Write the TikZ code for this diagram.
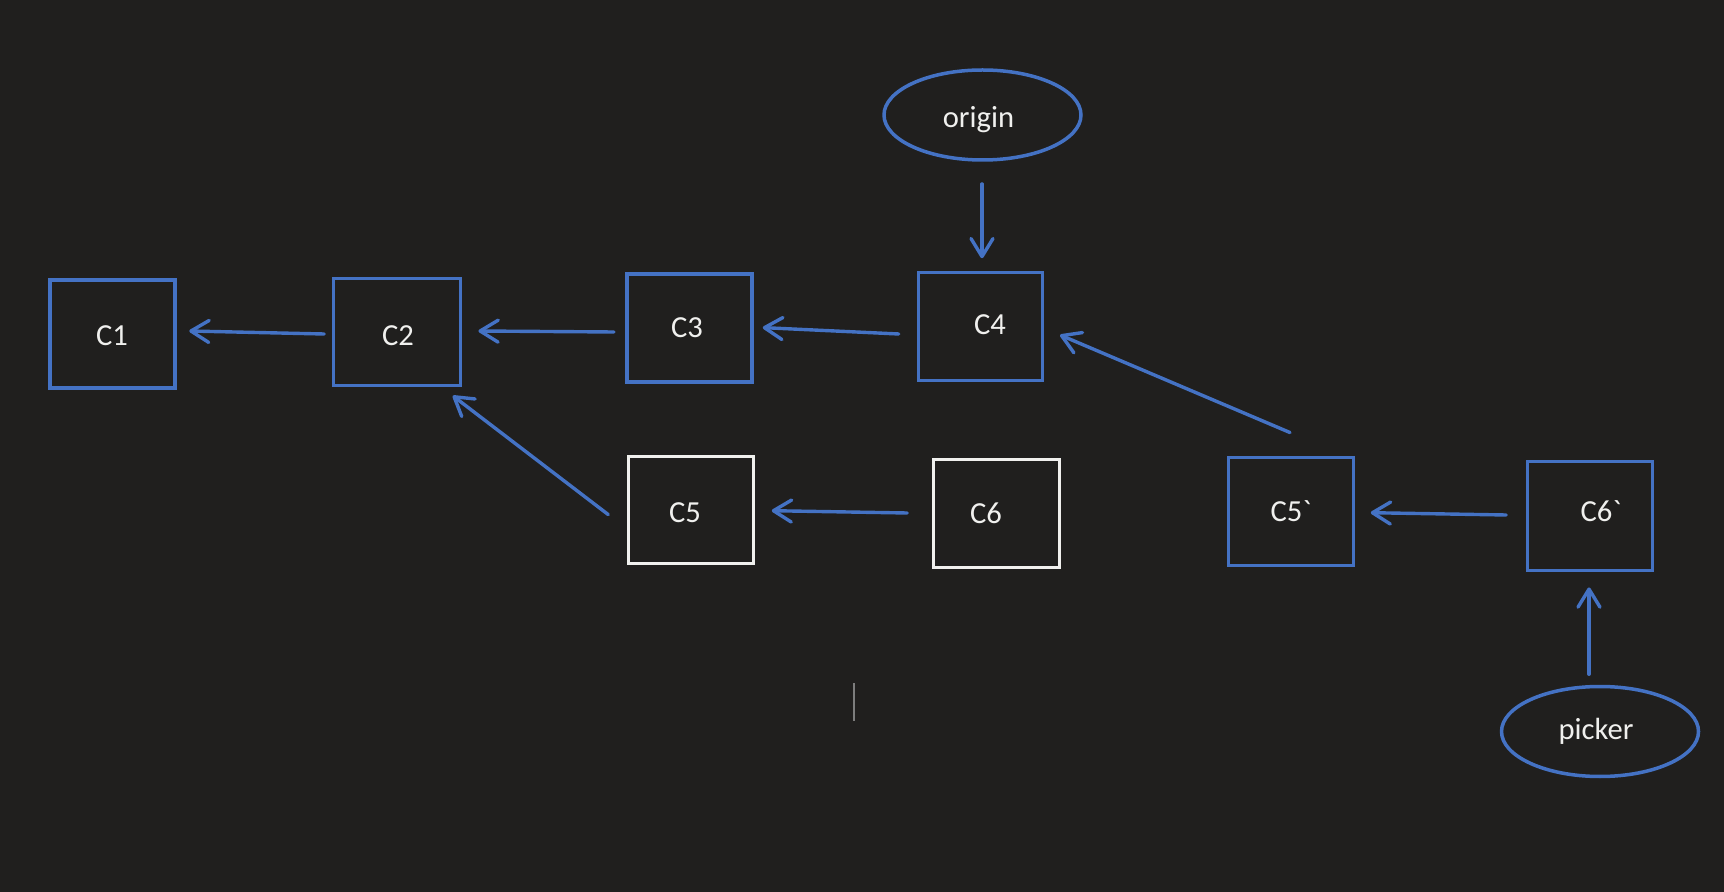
\documentclass[tikz,border=0pt]{standalone}
\usepackage{fontspec}
% plain family: no TeX ligatures, so ` stays a grave accent
\newfontfamily\labelfont{Carlito}
\usetikzlibrary{arrows.meta,shapes.geometric}
\definecolor{bg}{RGB}{32,31,30}
\definecolor{office}{RGB}{68,114,196}
\definecolor{paper}{RGB}{240,240,238}
\definecolor{caret}{RGB}{125,125,125}

\begin{document}
\begin{tikzpicture}[x=0.5pt,y=-0.5pt,
  commit/.style={draw=office,line width=1.75pt,inner sep=0pt,
    minimum width=62.5pt,minimum height=54pt},
  orphan/.style={commit,draw=paper},
  refname/.style={ellipse,draw=office,line width=1.75pt,inner sep=0pt,
    minimum width=98.5pt,minimum height=45pt},
  idtext/.style={inner sep=0pt,text=paper,font=\labelfont\fontsize{15.3}{18}\selectfont},
  parent/.style={draw=office,line width=1.7pt,line cap=round,
    -{Straight Barb[length=9pt,width=11pt,line cap=round,line join=round]}}]

\fill[bg] (0,0) rectangle (1724,892);
\useasboundingbox (0,0) rectangle (1724,892);

% main line of commits
\node[commit] (c1) at (112.5,334) {};
\node[commit,minimum width=63.5pt,minimum height=53.5pt] (c2) at (397,332) {};
\node[commit,minimum height=54pt] (c3) at (689.4,328.2) {};
\node[commit,minimum width=62pt] (c4) at (980.5,326.5) {};
% old side branch
\node[orphan,minimum height=53.5pt] (c5) at (691,510) {};
\node[orphan,minimum width=63pt] (c6) at (996.5,513.5) {};
% picked copies
\node[commit] (c5p) at (1291,511.5) {};
\node[commit,minimum height=54.5pt] (c6p) at (1590,516) {};
% references
\node[refname] (origin) at (982.5,115) {};
\node[refname] (picker) at (1600,731.5) {};

% labels
\node[idtext] (t1) at (112,336) {C1};
\node[idtext] (t2) at (398,335.5) {C2};
\node[idtext] (t3) at (687,328) {C3};
\node[idtext] (t4) at (990,325) {C4};
\node[idtext] (t5) at (685,513) {C5};
\node[idtext] (t6) at (986,513) {C6};
\node[idtext] (t5p) at (1291,511) {C5`};
\node[idtext] (t6p) at (1601,511) {C6`};
\node[idtext] (torigin) at (978.5,120) {origin};
\node[idtext] (tpicker) at (1596,731.5) {picker};

% parent links
\draw[parent] ([shift={(-7.5,2)}]c2.west) -- ([shift={(12.5,-3)}]c1.east);
\draw[parent] ([shift={(-11.2,3.8)}]c3.west) -- ([shift={(16.2,-1)}]c2.east);
\draw[parent] ([shift={(-18,7.5)}]c4.west) -- ([shift={(9.1,-0.6)}]c3.east);
\draw[parent] ([shift={(-0.5,22.2)}]origin.south) -- ([shift={(1.5,-12.5)}]c4.north);
\draw[parent] ([shift={(-24.5,-0.5)}]c6.west) -- ([shift={(16.5,0.7)}]c5.east);
\draw[parent] ([shift={(-18.5,4.6)}]c5.west) -- ([shift={(-9.5,8.5)}]c2.south east);
\draw[parent] ([shift={(-1,-23.2)}]c5p.north) -- ([shift={(15.8,8.5)}]c4.east);
\draw[parent] ([shift={(-19.5,-1)}]c6p.west) -- ([shift={(15.5,1.2)}]c5p.east);
\draw[parent] ([shift={(-11,-10.5)}]picker.north) -- ([shift={(-1,15.2)}]c6p.south);

% text caret
\draw[caret,line width=1pt] (854.3,683) -- (854.3,721);
\end{tikzpicture}
\end{document}
